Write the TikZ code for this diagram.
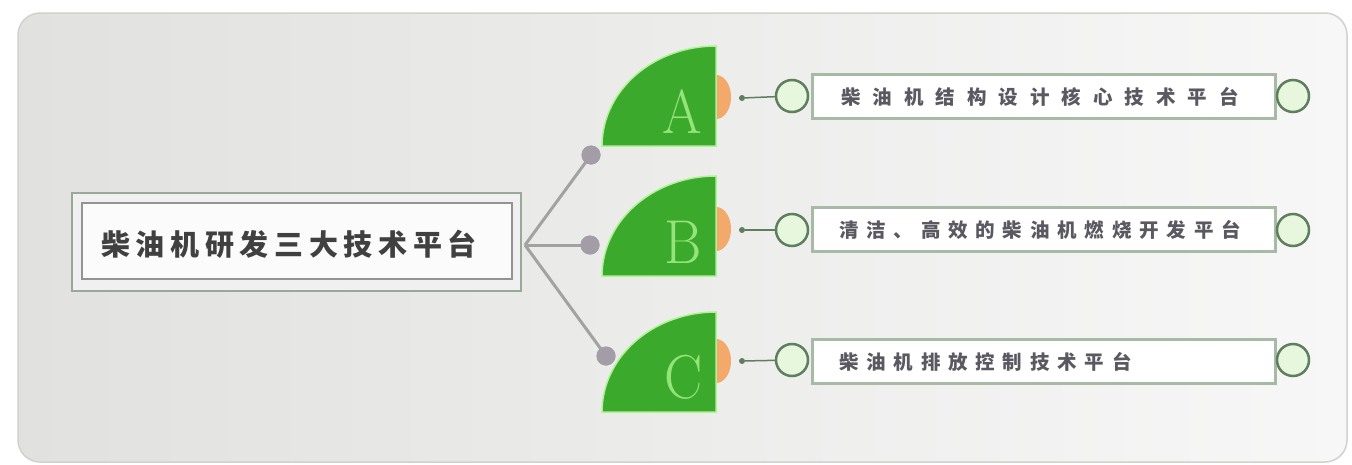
\documentclass[tikz,border=0pt]{standalone}
\usepackage{fontspec}
\newfontfamily\cjk{Noto Sans CJK SC}
\definecolor{panelL}{HTML}{E1E2DF}
\definecolor{panelR}{HTML}{F7F7F7}
\definecolor{panelB}{HTML}{D0D2CE}
\definecolor{leaf}{HTML}{3BAA2C}
\definecolor{leafrim}{HTML}{B4F09A}
\definecolor{lettr}{HTML}{94E47A}
\definecolor{orng}{HTML}{F3A96A}
\definecolor{link}{HTML}{A2A2A2}
\definecolor{knob}{HTML}{A29DA6}
\definecolor{ring}{HTML}{5E7E5E}
\definecolor{ringfill}{HTML}{E6F7DD}
\definecolor{boxline}{HTML}{A6BAA6}
\definecolor{txt}{HTML}{5A5860}
\newcommand\spc[2]{\def\pitchw{#1}\spcloop#2\relax}
\def\spcloop#1{\ifx#1\relax\else\makebox[\pitchw][c]{#1}\expandafter\spcloop\fi}
\tikzset{
  knobdot/.style={circle, fill=knob, minimum size=19pt, inner sep=0pt},
  linkline/.style={draw=link, line width=3pt},
  leafshape/.style={fill=leaf, draw=leafrim, line width=1.5pt},
  leafletter/.style={text=lettr, font=\fontsize{62}{62}\selectfont, inner sep=0pt},
  smalldot/.style={circle, fill=ring, minimum size=6pt, inner sep=0pt},
  ringnode/.style={circle, draw=ring, line width=2.5pt, fill=ringfill, minimum size=32pt, inner sep=0pt},
  itembox/.style={draw=boxline, line width=3pt, fill=white, minimum width=463pt, minimum height=44pt, inner sep=0pt},
  itemtext/.style={anchor=west, text=txt, font=\cjk\bfseries\fontsize{19.5}{19.5}\selectfont, inner sep=0pt},
}
\begin{document}
\begin{tikzpicture}[x=1pt,y=-1pt]
\useasboundingbox (0,0) rectangle (1352,464);
\fill[white] (0,0) rectangle (1352,464);
\draw[panelB, line width=1.5pt, left color=panelL, right color=panelR, rounded corners=22pt] (18,13) rectangle (1347,462);
% main box
\node[draw=boxline!70!gray, line width=1.5pt, fill=gray!12, minimum width=449pt, minimum height=98pt, inner sep=0pt] (mainout) at (296.5,242) {};
\node[draw=gray!85, line width=2pt, fill=white!97!gray, minimum width=430pt, minimum height=76pt, inner sep=0pt] (main) at (297,241) {};
\node[text=black!75, font=\cjk\bfseries\fontsize{29}{29}\selectfont, inner sep=0pt] (maintxt) at (289,244) {\spc{34.7pt}{柴油机研发三大技术平台}};
% connectors
\coordinate (j) at (525,245);
\node[knobdot] (dA) at (591,155) {};
\node[knobdot] (dB) at (590,245) {};
\node[knobdot] (dC) at (606,356) {};
\draw[linkline] (j) -- (dA.center);
\draw[linkline] (j) -- (dB.center);
\draw[linkline] (j) -- (dC.center);
\node[knobdot] at (dA) {};
\node[knobdot] at (dB) {};
\node[knobdot] at (dC) {};
% leaves
\foreach \yb/\yc in {146/97, 276/229, 412/361}{
  \fill[orng] plot[domain=-90:90, samples=30] ({716+15*cos(\x)},{\yc+22*sin(\x)}) -- cycle;
  \path[leafshape] plot[domain=180:270, samples=50] ({716+114*cos(\x)},{\yb+100*sin(\x)}) -- (716,\yb) -- cycle;
}
\node[leafletter] (LA) at (682,112) {\scalebox{0.92}[1]{A}};
\node[leafletter] (LB) at (683,242) {\scalebox{0.92}[1]{B}};
\node[leafletter] (LC) at (684,377) {\scalebox{0.92}[1]{C}};
% rows
\node[smalldot] (sA) at (742,98) {};
\node[ringnode] (cA) at (792,96) {};
\node[itembox] (rA) at (1043.5,96) {};
\node[ringnode] (eA) at (1293,96) {};
\draw[ring, line width=1.5pt] (sA) -- (cA);
\node[itemtext] (tA) at (835,97) {\spc{31.5pt}{柴油机结构设计核心技术平台}};

\node[smalldot] (sB) at (742,230) {};
\node[ringnode] (cB) at (792,230) {};
\node[itembox] (rB) at (1043.5,229.5) {};
\node[ringnode] (eB) at (1293,230) {};
\draw[ring, line width=1.5pt] (sB) -- (cB);
\node[itemtext] (tB) at (835,230) {\spc{27.3pt}{清洁、高效的柴油机燃烧开发平台}};

\node[smalldot] (sC) at (742,361) {};
\node[ringnode] (cC) at (792,360) {};
\node[itembox] (rC) at (1043.5,361.5) {};
\node[ringnode] (eC) at (1293,360) {};
\draw[ring, line width=1.5pt] (sC) -- (cC);
\node[itemtext] (tC) at (835,362) {\spc{27.3pt}{柴油机排放控制技术平台}};
\end{tikzpicture}
\end{document}
